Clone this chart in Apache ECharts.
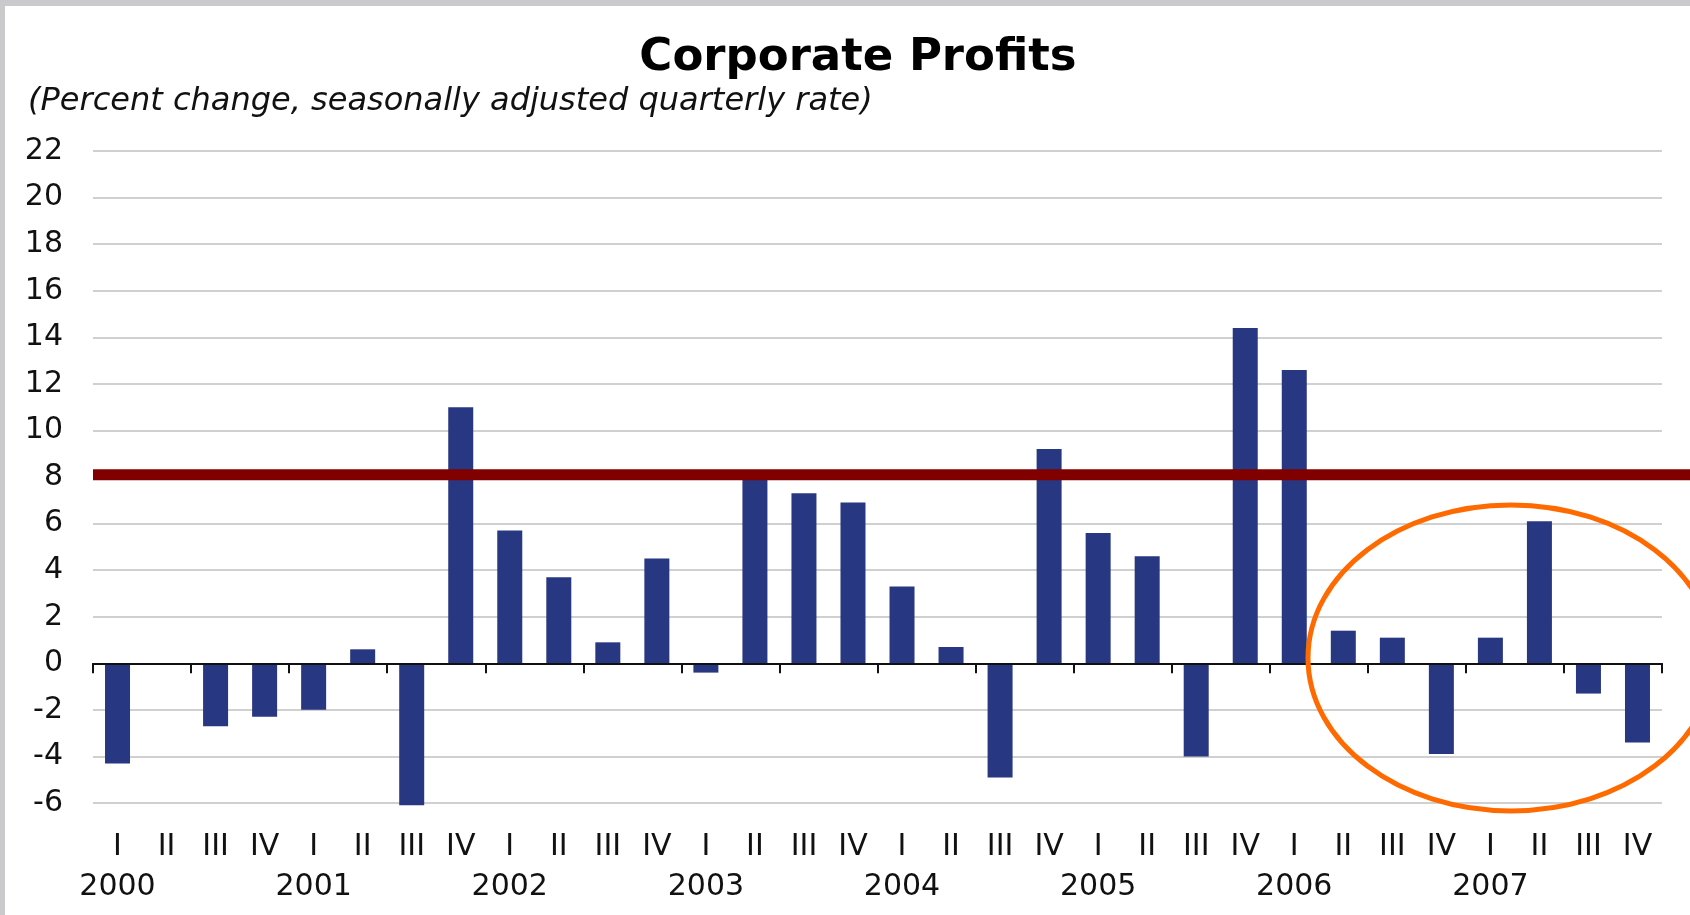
<!DOCTYPE html>
<html lang="en">
<head>
<meta charset="utf-8">
<title>Corporate Profits</title>
<style>
  html, body { margin: 0; padding: 0; background: #fff; }
  #main { width: 1690px; height: 915px; }
</style>
</head>
<body>
<div id="main"></div>
<script src="https://cdn.jsdelivr.net/npm/echarts@6/dist/echarts.min.js"></script>
<script>
// quarters 2000 I .. 2007 IV
var years = ['2000', '2001', '2002', '2003', '2004', '2005', '2006', '2007'];
var quarters = ['I', 'II', 'III', 'IV'];
var profits = [
  -4.3, 0, -2.7, -2.3,
  -2.0, 0.6, -6.1, 11.0,
  5.7, 3.7, 0.9, 4.5,
  -0.4, 8.1, 7.3, 6.9,
  3.3, 0.7, -4.9, 9.2,
  5.6, 4.6, -4.0, 14.4,
  12.6, 1.4, 1.1, -3.9,
  1.1, 6.1, -1.3, -3.4
];
var refLevel = 8.1;          // dark red reference line
var yMin = -6, yMax = 22, yStep = 2;

var categories = [];
years.forEach(function (y) {
  quarters.forEach(function (q) { categories.push(y + ' ' + q); });
});

var font = '"DejaVu Sans", sans-serif';
var chart = echarts.init(document.getElementById('main'));

var option = {
  backgroundColor: '#fff',
  animation: false,
  grid: { left: 93, right: 28, top: 151, bottom: 112 },
  xAxis: [{
    // zero line with ticks
    type: 'category',
    data: categories,
    z: 5,
    axisLine: { onZero: true, lineStyle: { color: '#111', width: 2 } },
    axisTick: { show: true, alignWithLabel: false, length: 10, lineStyle: { color: '#111', width: 2 } },
    axisLabel: { show: false },
    splitLine: { show: false }
  }, {
    // labels at the bottom of the plot
    type: 'category',
    data: categories,
    position: 'bottom',
    axisLine: { show: false, onZero: false },
    axisTick: { show: false },
    axisLabel: {
      interval: 0,
      margin: 24,
      formatter: function (v, i) {
        var parts = v.split(' ');
        if (i % 4 === 0) return '{q|' + parts[1] + '}\n{y|' + parts[0] + '}';
        return '{q|' + parts[1] + '}';
      },
      rich: {
        q: { fontSize: 30, fontFamily: font, color: '#111', lineHeight: 40 },
        y: { fontSize: 30, fontFamily: font, color: '#111', lineHeight: 40 }
      }
    }
  }],
  yAxis: {
    type: 'value',
    min: yMin,
    max: yMax,
    interval: yStep,
    axisLine: { show: false },
    axisTick: { show: false },
    axisLabel: { fontSize: 30, fontFamily: font, color: '#111', margin: 30 },
    splitLine: { lineStyle: { color: '#d0d0d0', width: 2 } }
  },
  series: [{
    type: 'bar',
    data: profits,
    barWidth: 25,
    clip: false,
    itemStyle: { color: '#283782' }
  }]
};
chart.setOption(option);

// reference line and highlight ellipse, placed through the axes
var x0 = chart.convertToPixel({ xAxisIndex: 0 }, 0);
var x1 = chart.convertToPixel({ xAxisIndex: 0 }, 1);
var band = x1 - x0;
var gridLeft = x0 - band / 2;
var yRef = chart.convertToPixel({ yAxisIndex: 0 }, refLevel);
var yZero = chart.convertToPixel({ yAxisIndex: 0 }, 0);
var unit = yZero - chart.convertToPixel({ yAxisIndex: 0 }, 1);
var cx = chart.convertToPixel({ xAxisIndex: 0 }, 28) + 0.42 * band;
var cy = chart.convertToPixel({ yAxisIndex: 0 }, 0.23);

chart.setOption({
  graphic: [
    { type: 'rect', shape: { x: 0, y: 0, width: 1690, height: 6 }, style: { fill: '#cacacd' }, z: 10 },
    { type: 'rect', shape: { x: 0, y: 0, width: 5, height: 915 }, style: { fill: '#cacacd' }, z: 10 },
    {
      type: 'text', x: 858, y: 58, z: 10,
      style: { text: 'Corporate Profits', fontSize: 45, fontWeight: 'bold', fontFamily: font, fill: '#000', align: 'center', verticalAlign: 'middle' }
    },
    {
      type: 'text', x: 28, y: 102, z: 10,
      style: { text: '(Percent change, seasonally adjusted quarterly rate)', fontSize: 32, fontStyle: 'italic', fontFamily: font, fill: '#111', align: 'left', verticalAlign: 'middle' }
    },
    {
      type: 'line', z: 10,
      shape: { x1: gridLeft, y1: yRef, x2: 1690, y2: yRef },
      style: { stroke: '#800000', lineWidth: 11 }
    },
    {
      type: 'ellipse', z: 11,
      shape: { cx: cx, cy: cy, rx: 4.14 * band, ry: 6.57 * unit },
      style: { fill: 'none', stroke: '#ff6a00', lineWidth: 5 }
    }
  ]
});
</script>
</body>
</html>
